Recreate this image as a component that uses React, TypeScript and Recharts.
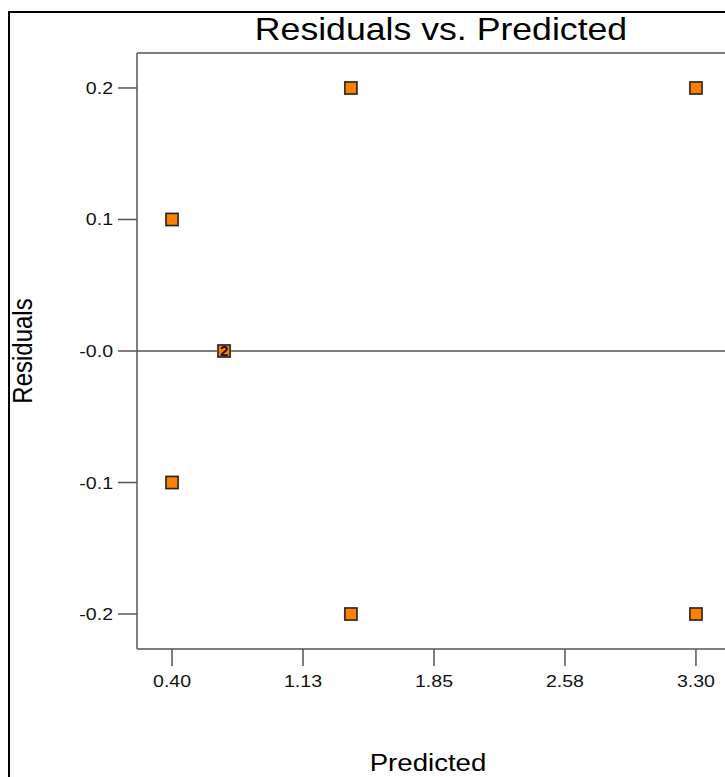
import { ScatterChart, Scatter, XAxis, YAxis, ReferenceLine } from "recharts";

const predicted = [0.4, 0.4, 0.688, 0.688, 1.39, 1.39, 3.3, 3.3];
const residuals = [0.1, -0.1, 0, 0, 0.2, -0.2, 0.2, -0.2];
const xTicks = [0.4, 1.125, 1.85, 2.575, 3.3];
const xTickLabels = ["0.40", "1.13", "1.85", "2.58", "3.30"];
const yTicks = [-0.2, -0.1, 0, 0.1, 0.2];
const yTickLabels = ["-0.2", "-0.1", "-0.0", "0.1", "0.2"];

const X_DOMAIN: [number, number] = [0.206, 3.494];
const Y_DOMAIN: [number, number] = [-0.2266, 0.2266];

const FONT = '"Liberation Sans", Arial, sans-serif';
const AXIS = "#555";
const STRETCH = 1.15;

// overlapping runs get a count, drawn once on the last of them
const points = predicted.map((p, i) => {
  const same = predicted.filter((q, j) => q === p && residuals[j] === residuals[i]).length;
  const later = predicted.some((q, j) => j > i && q === p && residuals[j] === residuals[i]);
  return { predicted: p, residual: residuals[i], count: same, showCount: same > 1 && !later };
});

function XTick({ x, y, payload }: any) {
  const i = xTicks.indexOf(payload.value);
  return (
    <text
      transform={`translate(${x},${y + 19}) scale(${STRETCH},1)`}
      textAnchor="middle"
      fontSize={17}
      fontFamily={FONT}
      fill="#111"
    >
      {xTickLabels[i] ?? payload.value}
    </text>
  );
}

function YTick({ x, y, payload }: any) {
  const i = yTicks.indexOf(payload.value);
  return (
    <text
      transform={`translate(${x - 3},${y + 6}) scale(${STRETCH},1)`}
      textAnchor="end"
      fontSize={17}
      fontFamily={FONT}
      fill="#111"
    >
      {yTickLabels[i] ?? payload.value}
    </text>
  );
}

function SquareMarker(props: any) {
  const { cx, cy, payload } = props;
  if (cx == null || cy == null) return <g />;
  return (
    <g>
      <rect x={cx - 7} y={cy - 7} width={14} height={14} fill="#aaa" />
      <rect x={cx - 6} y={cy - 6} width={12} height={12} fill="#ff8000" stroke="#222" strokeWidth={1.5} />
      {payload.showCount && (
        <text x={cx} y={cy + 5} textAnchor="middle" fontSize={15} fontWeight="bold" fontFamily={FONT} fill="#111">
          {payload.count}
        </text>
      )}
    </g>
  );
}

export default function App() {
  return (
    <div style={{ position: "absolute", left: 0, top: 0, width: 725, height: 777, overflow: "hidden", background: "#fff" }}>
      <div
        style={{
          position: "absolute",
          left: 8,
          top: 11,
          width: 900,
          height: 900,
          borderLeft: "2px solid #000",
          borderTop: "2px solid #000",
        }}
      />
      <div style={{ position: "absolute", left: 0, top: 0 }}>
        <ScatterChart width={760} height={777} margin={{ top: 53, left: 77, right: 29, bottom: 68 }}>
          <XAxis
            type="number"
            dataKey="predicted"
            domain={X_DOMAIN}
            ticks={xTicks}
            allowDataOverflow
            height={60}
            tickSize={17}
            stroke={AXIS}
            strokeWidth={1.5}
            tick={<XTick />}
            interval={0}
          />
          <YAxis
            type="number"
            dataKey="residual"
            domain={Y_DOMAIN}
            ticks={yTicks}
            allowDataOverflow
            width={60}
            tickSize={19}
            stroke={AXIS}
            strokeWidth={1.5}
            tick={<YTick />}
            interval={0}
          />
          <ReferenceLine y={Y_DOMAIN[1]} stroke={AXIS} strokeWidth={1.5} />
          <ReferenceLine y={0} stroke={AXIS} strokeWidth={1.5} />
          <Scatter data={points} shape={<SquareMarker />} isAnimationActive={false} />
        </ScatterChart>
      </div>
      <svg width={725} height={777} style={{ position: "absolute", left: 0, top: 0, pointerEvents: "none" }}>
        <text
          transform={`translate(441,40) scale(${STRETCH},1)`}
          textAnchor="middle"
          fontSize={31}
          fontFamily={FONT}
          fill="#000"
        >
          Residuals vs. Predicted
        </text>
        <text
          transform={`translate(428,771) scale(${STRETCH},1)`}
          textAnchor="middle"
          fontSize={24}
          fontFamily={FONT}
          fill="#000"
        >
          Predicted
        </text>
        <text
          transform="translate(32,351) rotate(-90) scale(1,1.15)"
          textAnchor="middle"
          fontSize={24}
          fontFamily={FONT}
          fill="#000"
        >
          Residuals
        </text>
      </svg>
    </div>
  );
}
